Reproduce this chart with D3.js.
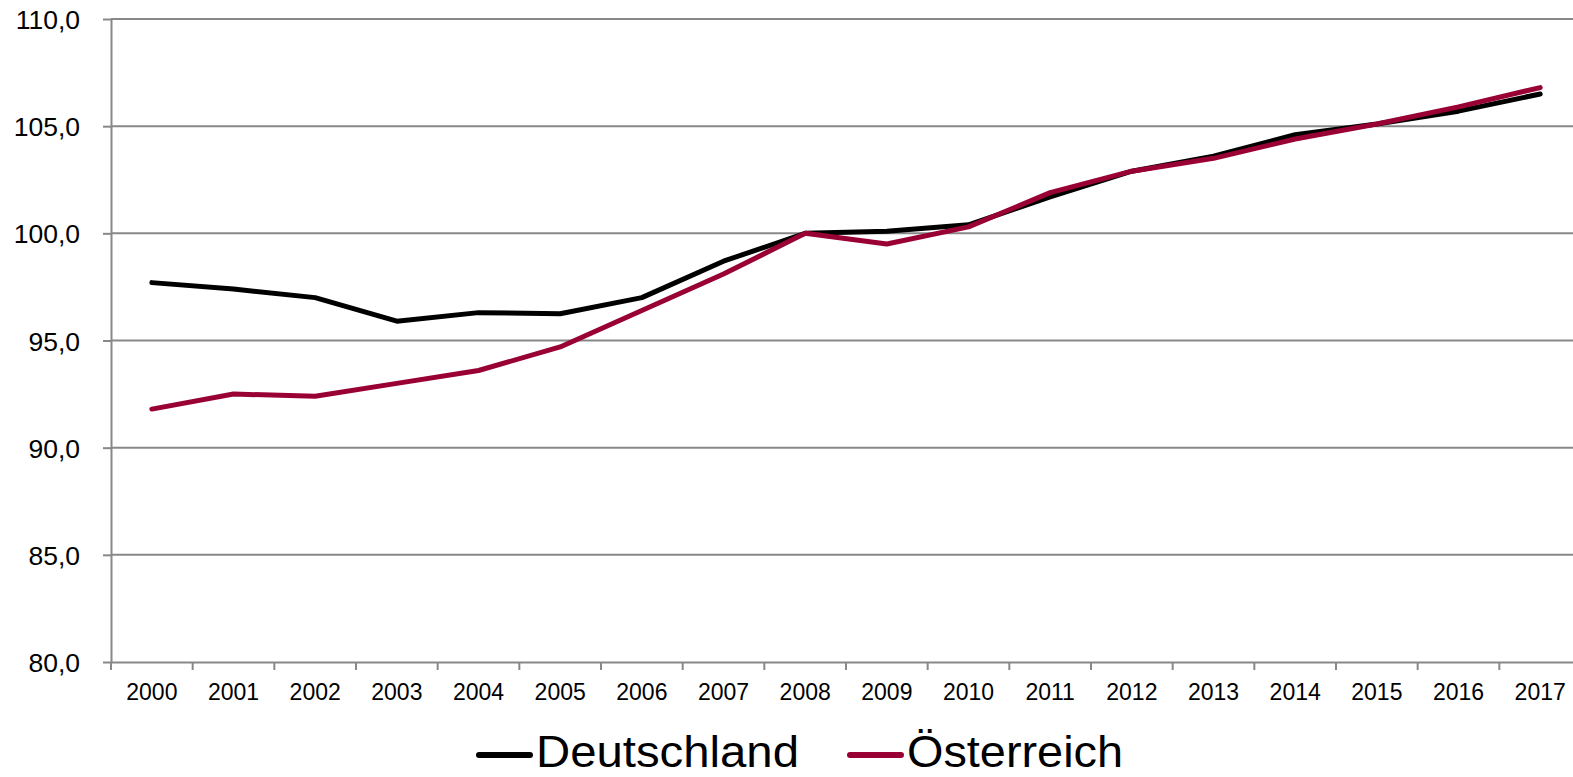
<!DOCTYPE html>
<html>
<head>
<meta charset="utf-8">
<script src="https://cdn.jsdelivr.net/npm/d3@7"></script>
<style>
  body { margin: 0; background: #fff; overflow: hidden; }
  svg { display: block; font-family: "Liberation Sans", Arial, sans-serif; }
</style>
</head>
<body>
<script>
const years = ["2000","2001","2002","2003","2004","2005","2006","2007","2008",
  "2009","2010","2011","2012","2013","2014","2015","2016","2017"];
const deutschland = [97.7, 97.4, 97.0, 95.9, 96.3, 96.25, 97.0, 98.7, 100.0,
  100.1, 100.4, 101.7, 102.9, 103.6, 104.6, 105.1, 105.7, 106.5];
const oesterreich = [91.8, 92.5, 92.4, 93.0, 93.6, 94.7, 96.4, 98.1, 100.0,
  99.5, 100.3, 101.9, 102.9, 103.5, 104.4, 105.1, 105.9, 106.8];
const yTicks = [80, 85, 90, 95, 100, 105, 110];
const seriesNames = ["Deutschland", "Österreich"];
const seriesColors = ["#000000", "#990033"];

const width = 1573, height = 777;
// plot area runs a little past the right edge, as in the original
const margin = { top: 19, right: -8, bottom: 115, left: 111 };

const svg = d3.select("body").append("svg")
  .attr("width", width)
  .attr("height", height);

const x = d3.scaleBand()
  .domain(years)
  .range([margin.left, width - margin.right]);

const y = d3.scaleLinear()
  .domain([80, 110])
  .range([height - margin.bottom, margin.top]);

const fmt = d3.format(".1f");
const comma = v => fmt(v).replace(".", ",");

// gridlines
svg.append("g")
  .selectAll("line")
  .data(yTicks.filter(d => d > 80))
  .join("line")
  .attr("x1", margin.left)
  .attr("x2", width)
  .attr("y1", d => y(d))
  .attr("y2", d => y(d))
  .attr("stroke", "#888")
  .attr("stroke-width", 2);

// y axis
const yAxis = svg.append("g")
  .attr("transform", `translate(${margin.left},0)`)
  .call(d3.axisLeft(y).tickValues(yTicks).tickSize(8).tickSizeOuter(0).tickFormat(comma));
yAxis.select(".domain").attr("stroke", "#888").attr("stroke-width", 2);
yAxis.selectAll(".tick line").attr("stroke", "#888").attr("stroke-width", 2);
yAxis.selectAll(".tick text")
  .attr("x", -31)
  .attr("dy", "0.36em")
  .style("font-size", "26.5px")
  .attr("fill", "#000");

// x axis
const xAxis = svg.append("g")
  .attr("transform", `translate(0,${y(80)})`)
  .call(d3.axisBottom(x).tickSize(0).tickSizeOuter(0));
xAxis.select(".domain").attr("stroke", "#888").attr("stroke-width", 2);
xAxis.selectAll(".tick text")
  .attr("y", 38)
  .attr("dy", "0")
  .style("font-size", "23px")
  .attr("fill", "#000");

// x boundary ticks
svg.append("g")
  .selectAll("line")
  .data(years)
  .join("line")
  .attr("x1", d => x(d))
  .attr("x2", d => x(d))
  .attr("y1", y(80))
  .attr("y2", y(80) + 8)
  .attr("stroke", "#888")
  .attr("stroke-width", 2);

// lines
const line = d3.line()
  .x((d, i) => x(years[i]) + x.bandwidth() / 2)
  .y(d => y(d));

[deutschland, oesterreich].forEach((s, i) => {
  svg.append("path")
    .datum(s)
    .attr("d", line)
    .attr("fill", "none")
    .attr("stroke", seriesColors[i])
    .attr("stroke-width", 5)
    .attr("stroke-linecap", "round")
    .attr("stroke-linejoin", "round");
});

// legend
const legendX = [477, 848];
const legendW = [263, 216];
const legend = svg.append("g");
seriesNames.forEach((name, i) => {
  const g = legend.append("g").attr("transform", `translate(${legendX[i]},755)`);
  g.append("line")
    .attr("x1", 2).attr("x2", 53)
    .attr("y1", 0).attr("y2", 0)
    .attr("stroke", seriesColors[i])
    .attr("stroke-width", 6)
    .attr("stroke-linecap", "round");
  g.append("text")
    .attr("x", 59)
    .attr("y", 12)
    .attr("textLength", legendW[i])
    .attr("lengthAdjust", "spacingAndGlyphs")
    .style("font-size", "44px")
    .attr("fill", "#000")
    .text(name);
});
</script>
</body>
</html>
